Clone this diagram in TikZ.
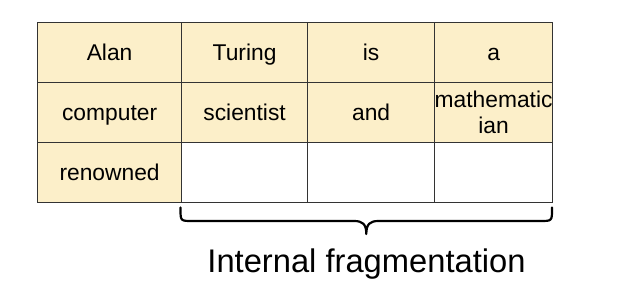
\documentclass[tikz,border=0pt]{standalone}
\usepackage{fontspec}
\setmainfont{Liberation Sans}
\definecolor{cellfill}{HTML}{FCEFC9}
\definecolor{gridline}{HTML}{333333}
\begin{document}
\begin{tikzpicture}[x=1pt,y=-1pt,
  cell/.style={draw=gridline, line width=1.2pt, inner sep=0pt, anchor=north west,
    minimum height=60pt, align=center, text height=16.5pt, text depth=0.5pt,
    font=\fontsize{22.8}{26}\selectfont, text=black},
  word/.style={cell, fill=cellfill},
  empty/.style={cell, fill=white},
  natural/.style={text height=, text depth=},
  colA/.style={minimum width=144pt},
  colB/.style={minimum width=126pt},
  colC/.style={minimum width=127pt},
  colD/.style={minimum width=118pt},
  bracepath/.style={draw=black, line width=2.2pt, line cap=round, line join=round}]
\useasboundingbox (0,0) rectangle (636,286);
% first row
\node[word,colA] (r1a) at (37,22)  {Alan};
\node[word,colB] (r1b) at (181,22) {Turing};
\node[word,colC] (r1c) at (307,22) {is};
\node[word,colD] (r1d) at (434,22) {a};
% second row
\node[word,colA] (r2a) at (37,82)  {computer};
\node[word,colB] (r2b) at (181,82) {scientist};
\node[word,colC] (r2c) at (307,82) {and};
\node[word,colD,natural] (r2d) at (434,82) {mathematic\\ian};
% third row: one word, then unused space
\node[word,colA]  (r3a) at (37,142)  {renowned};
\node[empty,colB] (r3b) at (181,142) {};
\node[empty,colC] (r3c) at (307,142) {};
\node[empty,colD] (r3d) at (434,142) {};
% curly brace under the unused cells
\coordinate (bl) at (180.5,207.5);
\coordinate (br) at (552,207.5);
\coordinate (tip) at (366.3,234);
\draw[bracepath] (bl) -- (180.5,209) .. controls (180.5,221) .. (192.5,221)
  -- (354,221) .. controls (362.5,221) and (366.3,224) .. (tip)
  .. controls (366.3,224) and (370,221) .. (378.5,221)
  -- (540,221) .. controls (552,221) .. (552,209) -- (br);
\node[anchor=base, font=\fontsize{32.7}{36}\selectfont] (label) at (366.5,272) {Internal fragmentation};
\end{tikzpicture}
\end{document}
